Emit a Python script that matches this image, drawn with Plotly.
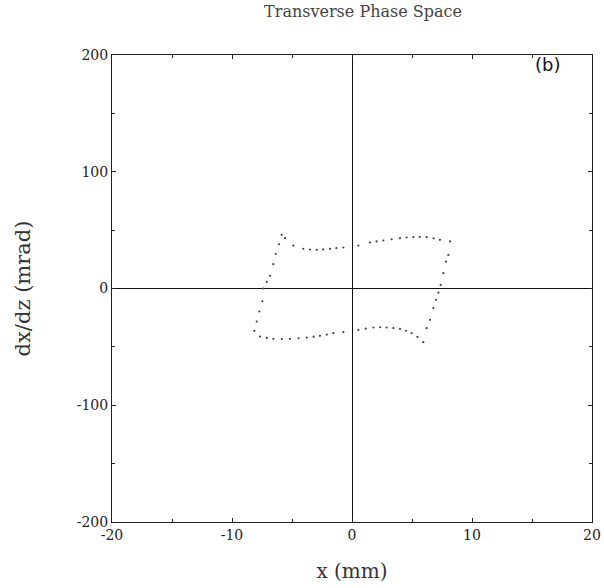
import plotly.graph_objects as go

# Phase-space contour points (x in mm, dx/dz in mrad)
x_mm = [-5.86, -6.08, -6.36, -6.56, -6.83, -7.10, -7.40, -7.47, -7.72, -7.94, -8.14,
        -7.67, -7.10, -6.56, -5.85, -5.17, -4.45, -3.78, -3.20, -2.67, -2.10, -1.56, -0.72,
        0.53, 1.15, 1.78, 2.35, 2.89, 3.45, 4.00, 4.50, 4.97, 5.45, 5.94,
        6.22, 6.50, 6.78, 7.00, 7.20, 7.39, 7.61, 7.83, 8.03, 8.17,
        7.33, 6.80, 6.22, 5.65, 5.11, 4.55, 4.00, 3.30, 2.61, 2.05, 1.50, 0.53,
        -0.72, -1.30, -1.83, -2.40, -2.94, -3.50, -4.06, -4.89, -5.58]
dxdz_mrad = [46.0, 37.9, 29.7, 20.8, 10.9, 5.5, 0.0, -11.0, -19.7, -28.3, -36.3,
             -41.1, -42.3, -43.1, -43.3, -43.1, -42.6, -42.0, -41.3, -40.5, -39.5, -38.3, -37.4,
             -35.4, -34.4, -33.4, -33.2, -33.4, -33.9, -34.6, -36.2, -38.3, -41.5, -46.0,
             -34.0, -26.8, -16.8, -9.7, -3.5, 3.1, 13.1, 23.1, 28.8, 40.3,
             41.7, 43.0, 44.0, 44.2, 44.0, 43.7, 43.1, 42.2, 41.1, 40.3, 39.4, 36.8,
             35.1, 34.5, 34.0, 33.5, 33.1, 33.4, 34.0, 36.8, 43.1]

x_ticks = [-20, -10, 0, 10, 20]
y_ticks = [-200, -100, 0, 100, 200]

serif = "DejaVu Serif, Liberation Serif, serif"

fig = go.Figure()
fig.add_trace(go.Scatter(
    x=x_mm, y=dxdz_mrad, mode="markers",
    marker=dict(size=2.2, color="#444444"),
    showlegend=False, hoverinfo="skip"))

axis_common = dict(
    showline=True, linecolor="#222222", linewidth=1, mirror="ticks",
    ticks="inside", ticklen=4, tickcolor="#222222", tickwidth=1,
    showgrid=False, zeroline=True, zerolinecolor="#111111", zerolinewidth=1,
    tickfont=dict(family=serif, size=14, color="#222222"),
    automargin=False,
)

fig.update_xaxes(range=[-20, 20], tickvals=x_ticks,
                 ticktext=[str(v) for v in x_ticks],
                 minor=dict(dtick=5, ticks="inside", ticklen=3, tickcolor="#222222"),
                 title=dict(text="x (mm)", font=dict(family=serif, size=20, color="#333333"),
                            standoff=22),
                 **axis_common)
fig.update_yaxes(range=[-200, 200], tickvals=y_ticks,
                 ticktext=[str(v) for v in y_ticks],
                 minor=dict(dtick=50, ticks="inside", ticklen=3, tickcolor="#222222"),
                 title=dict(text="dx/dz (mrad)", font=dict(family=serif, size=21, color="#333333"),
                            standoff=40),
                 **axis_common)

fig.update_layout(
    width=604, height=588,
    margin=dict(l=112, r=12, t=55, b=66),
    paper_bgcolor="white", plot_bgcolor="white",
    title=dict(text="Transverse Phase Space", x=0.601, xanchor="center", y=0.99, yanchor="top",
               font=dict(family=serif, size=16, color="#444444")),
    annotations=[dict(text="(b)", x=0.908, y=0.98, xref="paper", yref="paper",
                      showarrow=False, xanchor="center", yanchor="middle",
                      font=dict(family="DejaVu Sans, sans-serif", size=18, color="#111111"))],
)

fig.write_html("out.html")
